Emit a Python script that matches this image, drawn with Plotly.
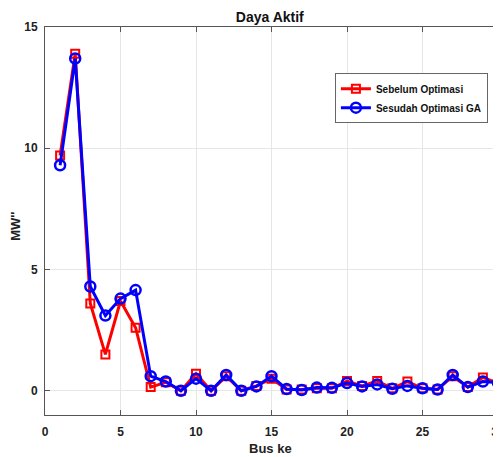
import plotly.graph_objects as go

bus = list(range(1, 31))
sebelum = [9.7, 13.9, 3.6, 1.5, 3.7, 2.6, 0.15, 0.35, 0.0, 0.7,
           0.0, 0.6, 0.0, 0.2, 0.5, 0.05, 0.05, 0.1, 0.1, 0.4,
           0.2, 0.4, 0.1, 0.38, 0.1, 0.05, 0.6, 0.15, 0.55, 0.3]
sesudah = [9.3, 13.7, 4.3, 3.1, 3.8, 4.15, 0.6, 0.38, 0.0, 0.5,
           0.0, 0.65, 0.0, 0.18, 0.6, 0.07, 0.03, 0.13, 0.12, 0.32,
           0.18, 0.26, 0.08, 0.2, 0.1, 0.05, 0.65, 0.15, 0.38, 0.33]

fnt = "Liberation Sans, Arial, sans-serif"

fig = go.Figure()
fig.add_trace(go.Scatter(
    x=bus, y=sebelum, mode="lines+markers", name="Sebelum Optimasi",
    line=dict(color="#ff0000", width=3),
    marker=dict(symbol="square-open", size=8, color="#ff0000", line=dict(width=2, color="#ff0000")),
))
fig.add_trace(go.Scatter(
    x=bus, y=sesudah, mode="lines+markers", name="Sesudah Optimasi GA",
    line=dict(color="#0000ff", width=3),
    marker=dict(symbol="circle-open", size=10, color="#0000ff", line=dict(width=2.5, color="#0000ff")),
))

axis_common = dict(
    showgrid=True, gridcolor="#e6e6e6", gridwidth=1,
    showline=True, linecolor="#555555", linewidth=1, mirror="ticks",
    ticks="inside", ticklen=5, tickcolor="#555555",
    zeroline=False, automargin=False, ticklabeloverflow="allow",
    tickfont=dict(family=fnt, size=12, color="#222222", weight="bold"),
)

# page body has an 8px margin: figure is shifted by (8, 8) in the browser
fig.update_layout(
    width=493, height=449,
    paper_bgcolor="white", plot_bgcolor="white",
    margin=dict(l=37, r=3, t=19, b=42, autoexpand=False),
    title=dict(text="<b>Daya Aktif</b>", x=0.531, xanchor="center", y=0.98, yanchor="middle",
               font=dict(family=fnt, size=14, color="#111111")),
    xaxis=dict(range=[0, 30], tickvals=[0, 5, 10, 15, 20, 25, 30], ticklabelstandoff=6, **axis_common),
    yaxis=dict(range=[-1, 15], tickvals=[0, 5, 10, 15], ticklabelstandoff=4, **axis_common),
    legend=dict(x=0.64, y=0.881, xanchor="left", yanchor="top",
                bgcolor="white", bordercolor="#666666", borderwidth=1,
                font=dict(family=fnt, size=10, color="#111111", weight="bold"),
                tracegroupgap=0, itemwidth=30),
    showlegend=True,
    annotations=[
        dict(text="<b>Bus ke</b>", xref="paper", yref="paper", x=0.497, y=-0.087,
             xanchor="center", yanchor="middle", showarrow=False,
             font=dict(family=fnt, size=13, color="#222222")),
        dict(text="<b>MW''</b>", xref="paper", yref="paper", x=-0.064, y=0.485,
             xanchor="center", yanchor="middle", showarrow=False, textangle=-90,
             font=dict(family=fnt, size=13, color="#222222")),
    ],
)

fig.write_html("out.html")
